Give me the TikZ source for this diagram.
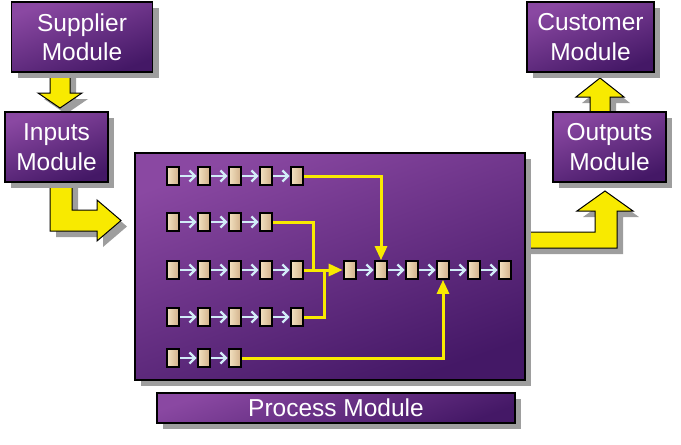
\documentclass[tikz,border=0pt]{standalone}
\usepackage{fontspec}
\setmainfont{Liberation Sans}
\usetikzlibrary{arrows.meta,shadows}

\definecolor{boxtop}{HTML}{8A48A2}
\definecolor{boxbot}{HTML}{441866}
\definecolor{arrowyel}{HTML}{F8EA00}
\definecolor{flowblue}{HTML}{D2ECF8}
\definecolor{cellL}{HTML}{F4E2C2}
\definecolor{cellR}{HTML}{CFAF88}
\definecolor{shadowgray}{HTML}{9E9E9E}

\tikzset{
  module/.style={draw=black, line width=1.6pt, top color=boxtop, bottom color=boxbot,
    shading angle=20, inner sep=0pt, text=white, align=center,
    font=\fontsize{24.5}{29.5}\selectfont,
    drop shadow={shadow xshift=6pt, shadow yshift=-6pt, fill=shadowgray, opacity=1}},
  blockarrow/.style={draw=black, line width=1pt, fill=arrowyel,
    drop shadow={shadow xshift=6pt, shadow yshift=-6pt, fill=shadowgray, opacity=1}},
  cell/.style={draw=black, line width=2.2pt, minimum width=12.5pt, minimum height=17.5pt,
    inner sep=0pt, left color=cellL, right color=cellR},
  flow/.style={flowblue, line width=2.4pt, -{Straight Barb[length=5.5pt,width=11pt]}},
  link/.style={arrowyel, line width=3pt},
  linkhead/.style={-{Triangle[length=14pt,width=12pt]}}
}

\begin{document}
\begin{tikzpicture}[x=1pt, y=-1pt]
		\useasboundingbox (0,0) rectangle (681,445);

		% 粗黄色箭头
		\path[blockarrow] (50,60) -- (50,93) -- (38,93) -- (60,108) -- (82,93) -- (70,93) -- (70,60) -- cycle;
		\path[blockarrow] (50,170) -- (50,231) -- (97,231) -- (97,241) -- (121,220.5) -- (97,200) -- (97,210) -- (72,210) -- (72,170) -- cycle;
		\path[blockarrow] (515,232) -- (595,232) -- (595,211) -- (577,211) -- (605,191) -- (633,211) -- (617,211) -- (617,248) -- (515,248) -- cycle;
		\path[blockarrow] (590,125) -- (590,97) -- (576,97) -- (600,78) -- (624,97) -- (610,97) -- (610,125) -- cycle;

		% 各个模块
		\node[module, minimum width=141pt, minimum height=70pt] (supplier) at (82,37) {Supplier\\Module};
		\node[module, minimum width=103pt, minimum height=70pt] (inputs) at (56.5,147) {Inputs\\Module};
		\node[module, minimum width=127pt, minimum height=70pt] (customer) at (590.5,37) {Customer\\Module};
		\node[module, minimum width=113pt, minimum height=70pt] (outputs) at (609.5,147) {Outputs\\Module};
		\node[module, minimum width=390pt, minimum height=227pt] (process) at (330,266.5) {};
		\node[module, minimum width=358pt, minimum height=30pt] (label) at (336,408) {Process Module};

		% 左边五条工序链
		\foreach \r/\y/\n in {1/176/5, 2/222/4, 3/270/5, 4/317/5, 5/358/3} {
			\foreach \c in {1,...,\n} {
				\node[cell] (r\r-\c) at ({173+31*(\c-1)},\y) {};
			}
			\foreach \c [count=\p] in {2,...,\n} {
				\draw[flow] (r\r-\p) -- (r\r-\c);
			}
		}

		% 右边的主链
		\foreach \c in {1,...,6} {
			\node[cell] (m\c) at ({350+31*(\c-1)},270) {};
		}
		\foreach \c [count=\p] in {2,...,6} {
			\draw[flow] (m\p) -- (m\c);
		}

		% 黄色连接线
		\draw[link, linkhead] (r1-5.east) -| (m2.north);
		\draw[link] (r2-4.east) -- ++(40,0) |- (r3-5.east);
		\draw[link] (r4-5.east) -- ++(20,0) |- (r3-5.east);
		\draw[link, linkhead] (r3-5.east) -- (m1.west);
		\draw[link, linkhead] (r5-3.east) -| (m4.south);
\end{tikzpicture}
\end{document}
